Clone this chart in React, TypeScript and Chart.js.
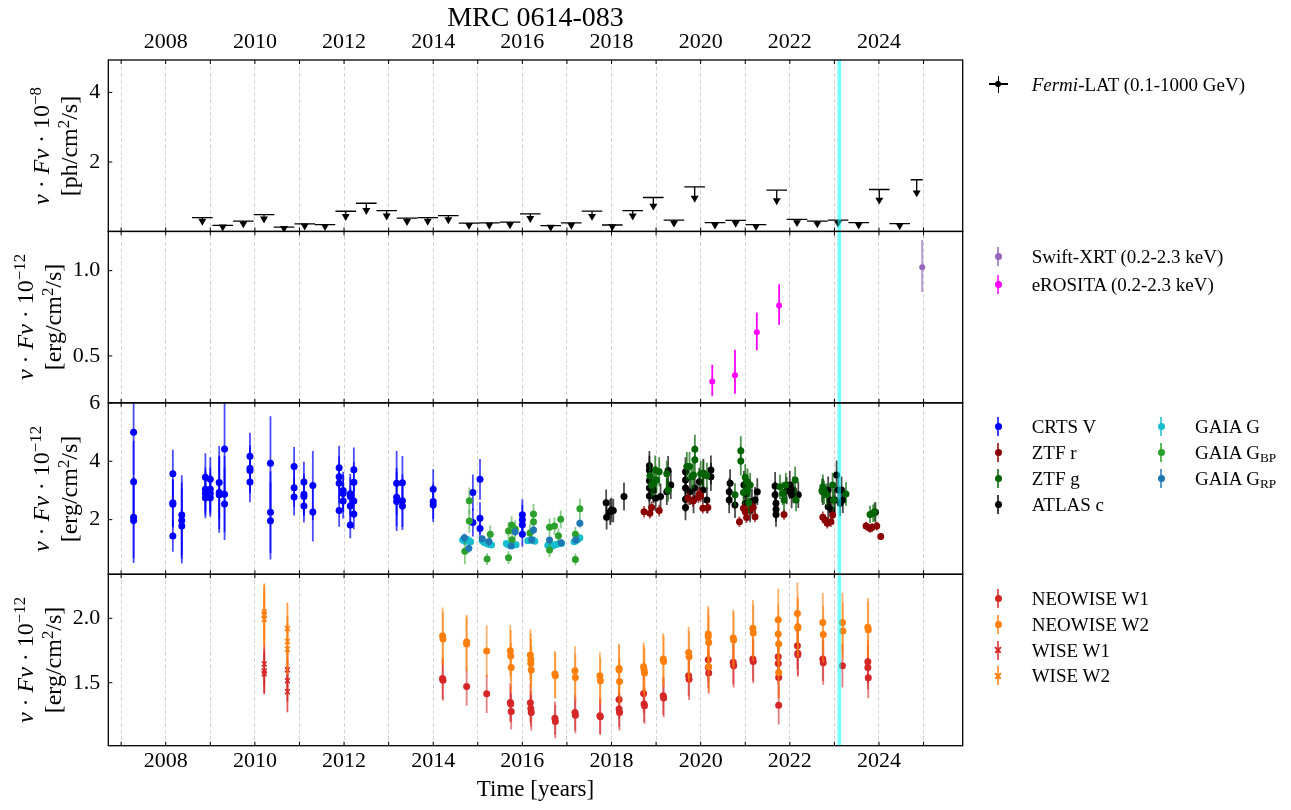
import React, { useEffect, useRef } from 'react';
import { Chart, registerables } from 'chart.js';

Chart.register(...registerables);

const SERIF = '"Liberation Serif", "Times New Roman", serif';

// ---------------- axes ----------------
const X_MIN = 2006.712;
const X_MAX = 2025.878;
const FLARE_EPOCH = 2023.11;

const Y1_MIN = 0.005, Y1_MAX = 4.931;
const Y2_MIN = 0.225, Y2_MAX = 1.23;
const Y3_MIN = 0.13, Y3_MAX = 6.0;
const Y4_MIN = 1.011, Y4_MAX = 2.342;

// ---------------- Fermi-LAT upper limits ----------------
const fermiX = [2008.821, 2009.279, 2009.741, 2010.205, 2010.654, 2011.118, 2011.573, 2012.038, 2012.5, 2012.957, 2013.413, 2013.877, 2014.339, 2014.804, 2015.259, 2015.723, 2016.178, 2016.636, 2017.098, 2017.563, 2018.018, 2018.476, 2018.938, 2019.402, 2019.866, 2020.322, 2020.786, 2021.241, 2021.706, 2022.161, 2022.616, 2023.081, 2023.545, 2024.007, 2024.465, 2024.846];
const fermiHalf = [0.231, 0.231, 0.231, 0.231, 0.231, 0.231, 0.231, 0.231, 0.231, 0.231, 0.231, 0.231, 0.231, 0.231, 0.231, 0.231, 0.231, 0.231, 0.231, 0.231, 0.231, 0.231, 0.231, 0.231, 0.231, 0.231, 0.231, 0.231, 0.231, 0.231, 0.231, 0.231, 0.231, 0.231, 0.231, 0.135];
const fermiUL = [0.40, 0.18, 0.30, 0.49, 0.13, 0.22, 0.20, 0.585, 0.815, 0.605, 0.39, 0.40, 0.46, 0.245, 0.25, 0.27, 0.51, 0.17, 0.25, 0.59, 0.19, 0.605, 0.98, 0.33, 1.285, 0.26, 0.32, 0.20, 1.19, 0.35, 0.30, 0.33, 0.26, 1.21, 0.23, 1.49];
const ARROW_FRAC = 0.25;

// ---------------- X-ray ----------------
const swiftX = [2024.97];
const swiftY = [1.02];
const swiftErrLo = [0.145];
const swiftErrHi = [0.16];

const erositaX = [2020.26, 2020.77, 2021.26, 2021.76];
const erositaY = [0.35, 0.387, 0.639, 0.795];
const erositaErrLo = [0.083, 0.108, 0.105, 0.112];
const erositaErrHi = [0.098, 0.15, 0.115, 0.125];

// ---------------- optical ----------------
const crtsX = [2007.28, 2007.28, 2007.28, 2007.28, 2008.16, 2008.16, 2008.16, 2008.16, 2008.36, 2008.36, 2008.36, 2008.89, 2008.89, 2008.89, 2008.89, 2009.0, 2009.0, 2009.0, 2009.0, 2009.2, 2009.2, 2009.2, 2009.32, 2009.32, 2009.32, 2009.89, 2009.89, 2009.89, 2009.89, 2010.35, 2010.35, 2010.35, 2010.88, 2010.88, 2010.88, 2011.1, 2011.1, 2011.1, 2011.1, 2011.3, 2011.3, 2011.89, 2011.89, 2011.89, 2011.89, 2011.98, 2011.98, 2011.98, 2012.14, 2012.14, 2012.14, 2012.14, 2012.22, 2012.22, 2012.22, 2012.22, 2013.18, 2013.18, 2013.18, 2013.31, 2013.31, 2013.31, 2014.0, 2014.0, 2014.0, 2014.89, 2014.89, 2015.05, 2015.05, 2015.05, 2016.0, 2016.0, 2016.0, 2016.0];
const crtsY = [4.99, 3.30, 2.08, 1.97, 3.57, 2.58, 2.53, 1.44, 2.16, 1.97, 1.78, 3.45, 3.04, 2.90, 2.75, 3.38, 3.04, 2.90, 2.75, 3.27, 2.93, 2.85, 4.42, 2.87, 2.54, 4.17, 3.76, 3.68, 3.29, 3.93, 2.25, 1.96, 3.82, 3.09, 2.78, 3.29, 2.87, 2.79, 2.47, 3.17, 2.26, 3.78, 3.47, 3.25, 2.31, 3.00, 2.90, 2.64, 2.89, 2.79, 2.47, 1.82, 3.71, 3.28, 2.64, 2.19, 3.25, 2.77, 2.62, 3.26, 2.65, 2.47, 3.04, 2.62, 2.50, 2.93, 1.90, 3.38, 2.05, 1.70, 2.17, 2.00, 1.83, 1.50];
const crtsErr = [1.45, 1.40, 1.40, 1.45, 0.82, 0.80, 0.80, 0.54, 1.36, 1.30, 1.28, 0.82, 0.75, 0.75, 0.70, 0.76, 0.75, 0.72, 0.65, 1.25, 1.25, 1.30, 1.60, 1.30, 1.24, 0.81, 0.80, 0.78, 0.69, 1.61, 1.40, 1.32, 0.67, 0.66, 0.64, 0.69, 0.70, 0.68, 0.57, 1.18, 1.01, 0.75, 0.70, 0.70, 0.55, 0.64, 0.64, 0.60, 0.68, 0.65, 0.60, 0.46, 0.76, 0.70, 0.60, 0.52, 1.10, 1.00, 1.01, 0.92, 0.90, 0.82, 0.69, 0.60, 0.58, 0.62, 0.48, 0.70, 0.55, 0.45, 0.53, 0.50, 0.45, 0.43];

const ztfRX = [2018.73, 2018.86, 2018.9, 2019.07, 2019.72, 2019.83, 2019.95, 2019.97, 2020.0, 2020.05, 2020.16, 2020.87, 2020.96, 2021.0, 2021.03, 2021.11, 2021.18, 2021.22, 2021.87, 2022.74, 2022.79, 2022.84, 2022.92, 2022.96, 2023.71, 2023.8, 2023.85, 2023.95, 2024.04];
const ztfRY = [2.27, 2.22, 2.42, 2.31, 2.73, 2.64, 2.77, 2.88, 2.81, 2.39, 2.42, 1.93, 2.39, 2.27, 2.07, 2.36, 2.42, 2.10, 2.18, 2.08, 1.99, 1.88, 1.93, 2.16, 1.78, 1.70, 1.74, 1.78, 1.42];
const ztfRErr = [0.2, 0.18, 0.2, 0.2, 0.22, 0.2, 0.2, 0.22, 0.2, 0.18, 0.2, 0.18, 0.2, 0.2, 0.18, 0.2, 0.2, 0.18, 0.18, 0.2, 0.18, 0.18, 0.18, 0.2, 0.15, 0.15, 0.15, 0.15, 0.12];

const ztfGX = [2018.86, 2018.9, 2018.95, 2018.98, 2019.01, 2019.07, 2019.24, 2019.27, 2019.69, 2019.75, 2019.8, 2019.84, 2019.87, 2019.87, 2020.0, 2020.06, 2020.14, 2020.77, 2020.9, 2020.9, 2020.96, 2021.0, 2021.05, 2021.05, 2021.08, 2021.11, 2021.78, 2021.84, 2021.87, 2021.91, 2022.12, 2022.14, 2022.72, 2022.74, 2022.77, 2022.83, 2022.96, 2022.98, 2023.26, 2023.8, 2023.87, 2023.9];
const ztfGY = [3.50, 3.19, 3.25, 3.70, 3.36, 3.64, 3.57, 3.02, 3.82, 3.82, 3.47, 3.53, 4.41, 4.05, 3.57, 3.57, 3.50, 2.85, 4.36, 4.01, 2.93, 3.45, 3.30, 3.02, 2.58, 3.19, 3.13, 2.90, 2.67, 3.19, 3.36, 2.67, 2.99, 3.13, 2.93, 2.85, 3.19, 2.67, 2.88, 2.18, 2.22, 2.27];
const ztfGErr = [0.45, 0.42, 0.45, 0.5, 0.45, 0.5, 0.45, 0.4, 0.5, 0.5, 0.45, 0.45, 0.5, 0.5, 0.45, 0.45, 0.45, 0.4, 0.5, 0.5, 0.4, 0.45, 0.45, 0.4, 0.38, 0.42, 0.42, 0.4, 0.38, 0.42, 0.45, 0.38, 0.4, 0.42, 0.4, 0.4, 0.42, 0.38, 0.4, 0.3, 0.3, 0.32];

const atlasX = [2017.88, 2017.89, 2017.97, 2018.0, 2018.04, 2018.28, 2018.85, 2018.85, 2018.85, 2018.85, 2018.85, 2018.94, 2018.99, 2019.1, 2019.24, 2019.27, 2019.33, 2019.66, 2019.66, 2019.66, 2019.66, 2019.66, 2019.76, 2019.84, 2019.87, 2019.97, 2020.05, 2020.06, 2020.14, 2020.23, 2020.23, 2020.64, 2020.64, 2020.66, 2020.77, 2020.97, 2021.0, 2021.03, 2021.11, 2021.15, 2021.22, 2021.27, 2021.67, 2021.67, 2021.69, 2021.69, 2021.69, 2021.93, 2022.0, 2022.04, 2022.08, 2022.19, 2022.74, 2022.86, 2022.86, 2022.9, 2022.94, 2023.01, 2023.05, 2023.09, 2023.13, 2023.16, 2023.19, 2023.92];
const atlasY = [2.58, 2.08, 2.27, 2.33, 2.31, 2.79, 3.85, 3.69, 3.33, 3.08, 2.81, 3.02, 2.73, 2.79, 2.96, 3.68, 3.19, 3.64, 3.36, 3.08, 2.70, 2.42, 2.96, 2.67, 3.08, 3.30, 3.02, 3.59, 2.67, 3.70, 3.47, 2.96, 2.67, 3.25, 2.50, 3.19, 2.56, 2.90, 2.33, 2.62, 2.67, 2.96, 3.15, 2.85, 2.56, 2.36, 2.18, 2.99, 3.19, 2.85, 3.02, 2.85, 2.96, 3.02, 2.44, 2.67, 2.33, 2.67, 3.53, 3.02, 2.56, 3.02, 2.67, 2.25];
const atlasErr = [0.45, 0.42, 0.45, 0.42, 0.4, 0.48, 0.5, 0.5, 0.48, 0.46, 0.45, 0.46, 0.45, 0.45, 0.46, 0.5, 0.48, 0.5, 0.48, 0.46, 0.45, 0.44, 0.46, 0.45, 0.46, 0.48, 0.46, 0.5, 0.45, 0.5, 0.48, 0.46, 0.45, 0.48, 0.44, 0.48, 0.44, 0.46, 0.42, 0.45, 0.45, 0.46, 0.48, 0.46, 0.44, 0.42, 0.42, 0.46, 0.48, 0.46, 0.46, 0.45, 0.46, 0.46, 0.44, 0.45, 0.42, 0.45, 0.5, 0.46, 0.44, 0.46, 0.44, 0.35];

const gaiaGX = [2014.66, 2014.69, 2014.72, 2014.76, 2014.8, 2014.84, 2015.1, 2015.14, 2015.18, 2015.22, 2015.27, 2015.31, 2015.64, 2015.68, 2015.72, 2015.76, 2015.8, 2015.86, 2016.12, 2016.16, 2016.2, 2016.24, 2016.28, 2016.57, 2016.62, 2016.68, 2016.73, 2016.78, 2016.84, 2016.88, 2017.16, 2017.19, 2017.22, 2017.25, 2017.29];
const gaiaGY = [1.30, 1.35, 1.25, 1.33, 1.28, 1.24, 1.28, 1.22, 1.20, 1.17, 1.15, 1.13, 1.18, 1.14, 1.12, 1.12, 1.13, 1.14, 1.28, 1.30, 1.32, 1.30, 1.26, 1.12, 1.08, 1.10, 1.14, 1.16, 1.19, 1.18, 1.24, 1.27, 1.30, 1.33, 1.38];
const gaiaGErr = [0.06, 0.06, 0.06, 0.06, 0.06, 0.06, 0.06, 0.06, 0.05, 0.05, 0.05, 0.05, 0.05, 0.05, 0.05, 0.05, 0.05, 0.05, 0.06, 0.06, 0.06, 0.06, 0.06, 0.05, 0.05, 0.05, 0.05, 0.05, 0.06, 0.06, 0.06, 0.06, 0.06, 0.06, 0.06];

const gaiaBPX = [2014.71, 2014.81, 2014.81, 2015.21, 2015.28, 2015.69, 2015.69, 2015.76, 2015.84, 2015.77, 2016.17, 2016.25, 2016.25, 2016.61, 2016.61, 2016.72, 2016.81, 2016.86, 2017.19, 2017.19, 2017.29];
const gaiaBPY = [0.92, 2.65, 1.95, 0.65, 1.50, 1.61, 0.70, 1.82, 1.68, 1.31, 1.54, 2.19, 1.93, 1.74, 0.96, 1.78, 1.45, 2.01, 1.50, 0.64, 2.37];
const gaiaBPErr = [0.45, 0.45, 0.4, 0.2, 0.3, 0.3, 0.22, 0.3, 0.3, 0.25, 0.3, 0.35, 0.35, 0.3, 0.25, 0.3, 0.25, 0.3, 0.25, 0.2, 0.35];

const gaiaRPX = [2014.7, 2014.8, 2015.1, 2015.25, 2015.75, 2015.84, 2016.21, 2016.25, 2016.61, 2016.87, 2017.2, 2017.29];
const gaiaRPY = [1.38, 1.02, 1.35, 1.25, 1.10, 1.59, 1.30, 1.65, 1.30, 1.21, 1.30, 1.88];
const gaiaRPErr = [0.15, 0.15, 0.1, 0.15, 0.1, 0.15, 0.12, 0.15, 0.12, 0.12, 0.12, 0.15];

// ---------------- infrared ----------------
const neoW1X = [2014.21, 2014.22, 2014.75, 2015.2, 2015.73, 2015.74, 2015.75, 2016.18, 2016.19, 2016.2, 2016.73, 2016.74, 2017.18, 2017.19, 2017.74, 2017.75, 2018.17, 2018.17, 2018.18, 2018.72, 2018.73, 2018.74, 2019.16, 2019.17, 2019.73, 2019.74, 2020.17, 2020.17, 2020.18, 2020.73, 2020.74, 2021.17, 2021.18, 2021.74, 2021.74, 2021.75, 2021.75, 2022.17, 2022.18, 2022.18, 2022.74, 2022.75, 2023.18, 2023.75, 2023.75, 2023.76];
const neoW1Y = [1.533, 1.52, 1.471, 1.414, 1.347, 1.334, 1.277, 1.344, 1.30, 1.269, 1.225, 1.199, 1.269, 1.248, 1.243, 1.235, 1.370, 1.295, 1.269, 1.417, 1.334, 1.321, 1.399, 1.381, 1.554, 1.526, 1.678, 1.619, 1.575, 1.658, 1.632, 1.684, 1.665, 1.702, 1.650, 1.541, 1.326, 1.787, 1.728, 1.717, 1.684, 1.655, 1.632, 1.663, 1.619, 1.539];
const neoW1Err = [0.16, 0.16, 0.15, 0.15, 0.15, 0.14, 0.14, 0.15, 0.14, 0.14, 0.13, 0.13, 0.14, 0.14, 0.14, 0.14, 0.15, 0.14, 0.14, 0.15, 0.14, 0.14, 0.15, 0.15, 0.16, 0.16, 0.17, 0.16, 0.16, 0.17, 0.17, 0.17, 0.17, 0.17, 0.17, 0.16, 0.15, 0.18, 0.17, 0.17, 0.17, 0.17, 0.17, 0.17, 0.17, 0.16];

const neoW2X = [2014.21, 2014.22, 2014.75, 2014.75, 2015.2, 2015.73, 2015.74, 2015.75, 2016.18, 2016.19, 2016.19, 2016.2, 2016.73, 2016.74, 2017.18, 2017.19, 2017.74, 2017.75, 2018.17, 2018.17, 2018.18, 2018.72, 2018.73, 2018.74, 2019.16, 2019.17, 2019.73, 2019.74, 2020.17, 2020.17, 2020.18, 2020.18, 2020.73, 2020.74, 2021.17, 2021.18, 2021.74, 2021.74, 2021.75, 2021.75, 2022.17, 2022.18, 2022.18, 2022.74, 2022.75, 2023.18, 2023.19, 2023.75, 2023.76];
const neoW2Y = [1.865, 1.839, 1.818, 1.80, 1.746, 1.748, 1.707, 1.619, 1.715, 1.681, 1.650, 1.598, 1.567, 1.554, 1.593, 1.541, 1.554, 1.515, 1.611, 1.60, 1.510, 1.624, 1.60, 1.575, 1.684, 1.665, 1.735, 1.702, 1.878, 1.857, 1.813, 1.624, 1.847, 1.831, 1.922, 1.886, 1.989, 1.878, 1.800, 1.580, 2.038, 1.935, 1.924, 1.968, 1.875, 1.968, 1.901, 1.930, 1.911];
const neoW2Err = [0.22, 0.21, 0.21, 0.21, 0.2, 0.2, 0.2, 0.19, 0.2, 0.2, 0.19, 0.19, 0.18, 0.18, 0.19, 0.18, 0.18, 0.18, 0.19, 0.19, 0.18, 0.19, 0.19, 0.19, 0.2, 0.2, 0.2, 0.2, 0.22, 0.22, 0.21, 0.2, 0.22, 0.22, 0.22, 0.22, 0.24, 0.23, 0.22, 0.2, 0.24, 0.23, 0.23, 0.23, 0.22, 0.23, 0.22, 0.23, 0.22];

const wiseW1X = [2010.21, 2010.21, 2010.21, 2010.73, 2010.73, 2010.73];
const wiseW1Y = [1.645, 1.59, 1.57, 1.60, 1.515, 1.43];
const wiseW1Err = [0.17, 0.17, 0.16, 0.16, 0.16, 0.16];

const wiseW2X = [2010.21, 2010.21, 2010.21, 2010.73, 2010.73, 2010.73];
const wiseW2Y = [2.05, 2.03, 1.99, 1.92, 1.82, 1.76];
const wiseW2Err = [0.22, 0.22, 0.21, 0.2, 0.2, 0.2];

// ---------------- colours ----------------
const C = {
  fermi: '#000000',
  swift: '#9467bd',
  erosita: '#ff00ff',
  crts: '#0000ff',
  ztfR: '#8b0000',
  ztfG: '#006400',
  atlas: '#000000',
  gaiaG: '#17becf',
  gaiaBP: '#2ca02c',
  gaiaRP: '#1f77b4',
  w1: '#d62728',
  w2: '#ff7f0e',
};

// ---------------- layout ----------------
const PLOT_LEFT = 108.3;
const PLOT_RIGHT = 962.7;
const PLOT_TOP = 60;
const PLOT_BOTTOM = 745.7;
const W = 1291;
const H = 810;

function pts(xs: number[], ys: number[]) {
  return xs.map((x, i) => ({ x, y: ys[i] }));
}

function series(label: string, xs: number[], ys: number[], lo: number[], hi: number[], yAxisID: string, color: string, extra: any = {}) {
  return {
    label,
    data: pts(xs, ys),
    yAxisID,
    xAxisID: 'x',
    backgroundColor: color,
    borderColor: color,
    borderWidth: 0,
    pointRadius: 3.5,
    pointStyle: 'circle',
    errLo: lo,
    errHi: hi,
    errColor: color,
    ...extra,
  };
}

function hexA(hex: string, a: number) {
  const r = parseInt(hex.slice(1, 3), 16), g = parseInt(hex.slice(3, 5), 16), b = parseInt(hex.slice(5, 7), 16);
  return `rgba(${r},${g},${b},${a})`;
}

const errPlugin = {
  id: 'errbars',
  beforeDatasetDraw(chart: any, args: any) {
    const ds: any = chart.data.datasets[args.index];
    const xs = chart.scales.x;
    const ys = chart.scales[ds.yAxisID];
    const ca = chart.chartArea;
    const ctx = chart.ctx;
    ctx.save();
    ctx.beginPath();
    ctx.rect(ca.left, ys.top, ca.right - ca.left, ys.bottom - ys.top);
    ctx.clip();
    if (ds.ul) {
      ctx.strokeStyle = '#000';
      ctx.lineWidth = 1.3;
      ds.data.forEach((p: any, i: number) => {
        const cx = xs.getPixelForValue(p.x);
        const yu = ys.getPixelForValue(ds.ul[i]);
        const yb = ys.getPixelForValue(p.y);
        ctx.beginPath();
        ctx.moveTo(xs.getPixelForValue(p.x - ds.half[i]), yu);
        ctx.lineTo(xs.getPixelForValue(p.x + ds.half[i]), yu);
        ctx.moveTo(cx, yu);
        ctx.lineTo(cx, yb);
        ctx.stroke();
      });
    }
    if (ds.errLo) {
      ctx.strokeStyle = hexA(ds.errColor, ds.errAlpha ?? 0.7);
      ctx.lineWidth = ds.errWidth ?? 1.8;
      ds.data.forEach((p: any, i: number) => {
        const px = xs.getPixelForValue(p.x);
        const y1 = ys.getPixelForValue(p.y - ds.errLo[i]);
        const y2 = ys.getPixelForValue(p.y + ds.errHi[i]);
        ctx.beginPath();
        ctx.moveTo(px, y1);
        ctx.lineTo(px, y2);
        ctx.stroke();
      });
    }
    ctx.restore();
  },
  afterDatasetsDraw(chart: any) {
    const ctx = chart.ctx;
    const ca = chart.chartArea;
    const xs = chart.scales.x;
    ctx.save();
    const fx = xs.getPixelForValue(FLARE_EPOCH);
    ctx.fillStyle = 'rgba(0,255,255,0.55)';
    ctx.fillRect(fx - 1.8, ca.top, 3.6, ca.bottom - ca.top);
    ['y1', 'y2', 'y3', 'y4'].forEach((id) => {
      const s = chart.scales[id];
      ctx.strokeStyle = '#000';
      ctx.lineWidth = 1;
      ctx.beginPath();
      xs.ticks.forEach((t: any) => {
        const px = xs.getPixelForValue(t.value);
        ctx.moveTo(px, s.top);
        ctx.lineTo(px, s.top + 4);
        ctx.moveTo(px, s.bottom);
        ctx.lineTo(px, s.bottom - 4);
      });
      s.ticks.forEach((t: any) => {
        const py = s.getPixelForValue(t.value);
        ctx.moveTo(ca.left, py);
        ctx.lineTo(ca.left + 4, py);
      });
      ctx.stroke();
      ctx.lineWidth = 1.3;
      ctx.strokeRect(ca.left, s.top, ca.right - ca.left, s.bottom - s.top);
    });
    ctx.restore();
  },
};

function yScale(weight: number, min: number, max: number, step: number, digits: number) {
  return {
    type: 'linear',
    position: 'left',
    stack: 'panels',
    stackWeight: 1,
    weight,
    min,
    max,
    afterFit: (s: any) => {
      s.width = PLOT_LEFT;
    },
    grid: { display: false, drawTicks: false },
    border: { display: false },
    ticks: {
      stepSize: step,
      includeBounds: false,
      padding: 8,
      color: '#000',
      font: { family: SERIF, size: 22 },
      callback: (v: any) => Number(v).toFixed(digits),
    },
  };
}

const yearLabel = (v: any) => (Math.round(v) % 2 === 0 ? String(Math.round(v)) : '');

function Txt({ x, y, size, children, anchor = 'start', style = {} }: any) {
  return (
    <div
      style={{
        position: 'absolute',
        left: x,
        top: y - 0.8375 * size,
        fontSize: size,
        lineHeight: `${size}px`,
        whiteSpace: 'nowrap',
        transform: anchor === 'middle' ? 'translateX(-50%)' : undefined,
        ...style,
      }}
    >
      {children}
    </div>
  );
}

function Marker({ x, y, color, kind }: any) {
  const abs: any = { position: 'absolute' };
  if (kind === 'cross') {
    return (
      <>
        <div style={{ ...abs, left: x - 0.75, top: y - 8.5, width: 1.5, height: 17, background: color }} />
        <div style={{ ...abs, left: x - 9.5, top: y - 0.75, width: 19, height: 1.5, background: color }} />
        <div style={{ ...abs, left: x - 3, top: y - 3, width: 6, height: 6, borderRadius: '50%', background: color }} />
      </>
    );
  }
  return (
    <>
      <div style={{ ...abs, left: x - 0.9, top: y - 9.5, width: 1.8, height: 19, background: color, opacity: 0.75 }} />
      {kind === 'x' ? (
        <>
          <div style={{ ...abs, left: x - 4, top: y - 0.75, width: 8, height: 1.5, background: color, transform: 'rotate(45deg)' }} />
          <div style={{ ...abs, left: x - 4, top: y - 0.75, width: 8, height: 1.5, background: color, transform: 'rotate(-45deg)' }} />
        </>
      ) : (
        <div style={{ ...abs, left: x - 3.5, top: y - 3.5, width: 7, height: 7, borderRadius: '50%', background: color }} />
      )}
    </>
  );
}

const supStyle: any = { fontSize: '0.7em', verticalAlign: '0.45em', lineHeight: 0 };
const subStyle: any = { fontSize: '0.7em', verticalAlign: '-0.2em', lineHeight: 0 };

function YLabel({ cx, cy, exp, unit }: any) {
  return (
    <div
      style={{
        position: 'absolute',
        left: cx,
        top: cy,
        transform: 'translate(-50%,-50%) rotate(-90deg)',
        whiteSpace: 'nowrap',
        textAlign: 'center',
        fontSize: 24,
        lineHeight: '28px',
      }}
    >
      <div>
        <i>ν</i> · <i>Fν</i> · 10<span style={supStyle}>{exp}</span>
      </div>
      <div>{unit}</div>
    </div>
  );
}

function LegendItem({ mx, my, tx, color, kind, children }: any) {
  return (
    <>
      <Marker x={mx} y={my} color={color} kind={kind} />
      <Txt x={tx} y={my + 6.7} size={19}>
        {children}
      </Txt>
    </>
  );
}

export default function App() {
  const ref = useRef<HTMLCanvasElement>(null);

  useEffect(() => {
    if (!ref.current) return;
    const datasets: any[] = [
      {
        label: 'Fermi-LAT (0.1-1000 GeV)',
        data: fermiX.map((x, i) => ({ x, y: fermiUL[i] * (1 - ARROW_FRAC) })),
        yAxisID: 'y1',
        xAxisID: 'x',
        pointStyle: 'triangle',
        rotation: 180,
        pointRadius: 4.6,
        backgroundColor: C.fermi,
        borderColor: C.fermi,
        borderWidth: 0,
        ul: fermiUL,
        half: fermiHalf,
      },
      series('Swift-XRT (0.2-2.3 keV)', swiftX, swiftY, swiftErrLo, swiftErrHi, 'y2', C.swift, { pointRadius: 3 }),
      series('eROSITA (0.2-2.3 keV)', erositaX, erositaY, erositaErrLo, erositaErrHi, 'y2', C.erosita, { pointRadius: 3, errAlpha: 1 }),
      series('CRTS V', crtsX, crtsY, crtsErr, crtsErr, 'y3', C.crts),
      series('ATLAS c', atlasX, atlasY, atlasErr, atlasErr, 'y3', C.atlas),
      series('ZTF r', ztfRX, ztfRY, ztfRErr, ztfRErr, 'y3', C.ztfR),
      series('ZTF g', ztfGX, ztfGY, ztfGErr, ztfGErr, 'y3', C.ztfG),
      series('GAIA G', gaiaGX, gaiaGY, gaiaGErr, gaiaGErr, 'y3', C.gaiaG),
      series('GAIA BP', gaiaBPX, gaiaBPY, gaiaBPErr, gaiaBPErr, 'y3', C.gaiaBP, { errAlpha: 0.55 }),
      series('GAIA RP', gaiaRPX, gaiaRPY, gaiaRPErr, gaiaRPErr, 'y3', C.gaiaRP),
      series('NEOWISE W1', neoW1X, neoW1Y, neoW1Err, neoW1Err, 'y4', C.w1, { errAlpha: 0.6 }),
      series('NEOWISE W2', neoW2X, neoW2Y, neoW2Err, neoW2Err, 'y4', C.w2, { errAlpha: 0.6 }),
      series('WISE W1', wiseW1X, wiseW1Y, wiseW1Err, wiseW1Err, 'y4', C.w1, { pointStyle: 'crossRot', borderWidth: 1.5, pointRadius: 3.5, errAlpha: 0.75 }),
      series('WISE W2', wiseW2X, wiseW2Y, wiseW2Err, wiseW2Err, 'y4', C.w2, { pointStyle: 'crossRot', borderWidth: 1.5, pointRadius: 3.5, errAlpha: 0.75 }),
    ];
    datasets.forEach((d, i) => {
      d.order = -i;
    });

    const xTicks = {
      stepSize: 1,
      includeBounds: false,
      autoSkip: false,
      maxRotation: 0,
      minRotation: 0,
      color: '#000',
      font: { family: SERIF, size: 22 },
      callback: yearLabel,
    };

    const chart = new Chart(ref.current, {
      type: 'scatter',
      data: { datasets },
      plugins: [errPlugin],
      options: {
        animation: false,
        responsive: false,
        maintainAspectRatio: false,
        devicePixelRatio: 1,
        events: [],
        layout: { padding: { left: 0, right: W - PLOT_RIGHT, top: 0, bottom: 0 } },
        plugins: { legend: { display: false }, tooltip: { enabled: false }, title: { display: false } },
        scales: {
          x: {
            type: 'linear',
            position: 'bottom',
            min: X_MIN,
            max: X_MAX,
            afterFit: (s: any) => {
              s.height = H - PLOT_BOTTOM;
            },
            grid: { color: '#d4d4d4', lineWidth: 1, drawTicks: false },
            border: { display: false, dash: [4, 2.5] },
            ticks: { ...xTicks, padding: 2 },
          },
          x2: {
            type: 'linear',
            position: 'top',
            min: X_MIN,
            max: X_MAX,
            afterFit: (s: any) => {
              s.height = PLOT_TOP;
            },
            grid: { display: false, drawTicks: false },
            border: { display: false },
            ticks: { ...xTicks, padding: 5 },
          },
          y1: yScale(4, Y1_MIN, Y1_MAX, 2, 0),
          y2: yScale(3, Y2_MIN, Y2_MAX, 0.5, 1),
          y3: yScale(2, Y3_MIN, Y3_MAX, 2, 0),
          y4: yScale(1, Y4_MIN, Y4_MAX, 0.5, 1),
        } as any,
      } as any,
    });
    return () => chart.destroy();
  }, []);

  const lx = 998.3;
  const tx = 1031.7;
  const lx2 = 1161;
  const tx2 = 1195;

  return (
    <div
      style={{
        position: 'fixed',
        left: 0,
        top: 0,
        width: W,
        height: H,
        background: '#fff',
        fontFamily: SERIF,
        color: '#000',
        overflow: 'hidden',
      }}
    >
      <canvas ref={ref} width={W} height={H} style={{ position: 'absolute', left: 0, top: 0, width: W, height: H }} />

      <Txt x={(PLOT_LEFT + PLOT_RIGHT) / 2} y={26} size={28} anchor="middle">
        MRC 0614-083
      </Txt>
      <Txt x={(PLOT_LEFT + PLOT_RIGHT) / 2} y={796} size={23} anchor="middle">
        Time [years]
      </Txt>

      <YLabel cx={55} cy={145.7} exp="−8" unit={<>[ph/cm<span style={supStyle}>2</span>/s]</>} />
      <YLabel cx={39} cy={317.1} exp="−12" unit={<>[erg/cm<span style={supStyle}>2</span>/s]</>} />
      <YLabel cx={55} cy={488.6} exp="−12" unit={<>[erg/cm<span style={supStyle}>2</span>/s]</>} />
      <YLabel cx={39} cy={660} exp="−12" unit={<>[erg/cm<span style={supStyle}>2</span>/s]</>} />

      <LegendItem mx={lx} my={84} tx={tx} color={C.fermi} kind="cross">
        <i>Fermi</i>-LAT (0.1-1000 GeV)
      </LegendItem>

      <LegendItem mx={lx} my={256.7} tx={tx} color={C.swift} kind="dot">
        Swift-XRT (0.2-2.3 keV)
      </LegendItem>
      <LegendItem mx={lx} my={284} tx={tx} color={C.erosita} kind="dot">
        eROSITA (0.2-2.3 keV)
      </LegendItem>

      <LegendItem mx={lx} my={426.7} tx={tx} color={C.crts} kind="dot">CRTS V</LegendItem>
      <LegendItem mx={lx} my={452.3} tx={tx} color={C.ztfR} kind="dot">ZTF r</LegendItem>
      <LegendItem mx={lx} my={478.3} tx={tx} color={C.ztfG} kind="dot">ZTF g</LegendItem>
      <LegendItem mx={lx} my={504.3} tx={tx} color={C.atlas} kind="dot">ATLAS c</LegendItem>
      <LegendItem mx={lx2} my={426.7} tx={tx2} color={C.gaiaG} kind="dot">GAIA G</LegendItem>
      <LegendItem mx={lx2} my={452.3} tx={tx2} color={C.gaiaBP} kind="dot">
        GAIA G<span style={subStyle}>BP</span>
      </LegendItem>
      <LegendItem mx={lx2} my={478.3} tx={tx2} color={C.gaiaRP} kind="dot">
        GAIA G<span style={subStyle}>RP</span>
      </LegendItem>

      <LegendItem mx={lx} my={598.3} tx={tx} color={C.w1} kind="dot">NEOWISE W1</LegendItem>
      <LegendItem mx={lx} my={624} tx={tx} color={C.w2} kind="dot">NEOWISE W2</LegendItem>
      <LegendItem mx={lx} my={650} tx={tx} color={C.w1} kind="x">WISE W1</LegendItem>
      <LegendItem mx={lx} my={675.7} tx={tx} color={C.w2} kind="x">WISE W2</LegendItem>
    </div>
  );
}
